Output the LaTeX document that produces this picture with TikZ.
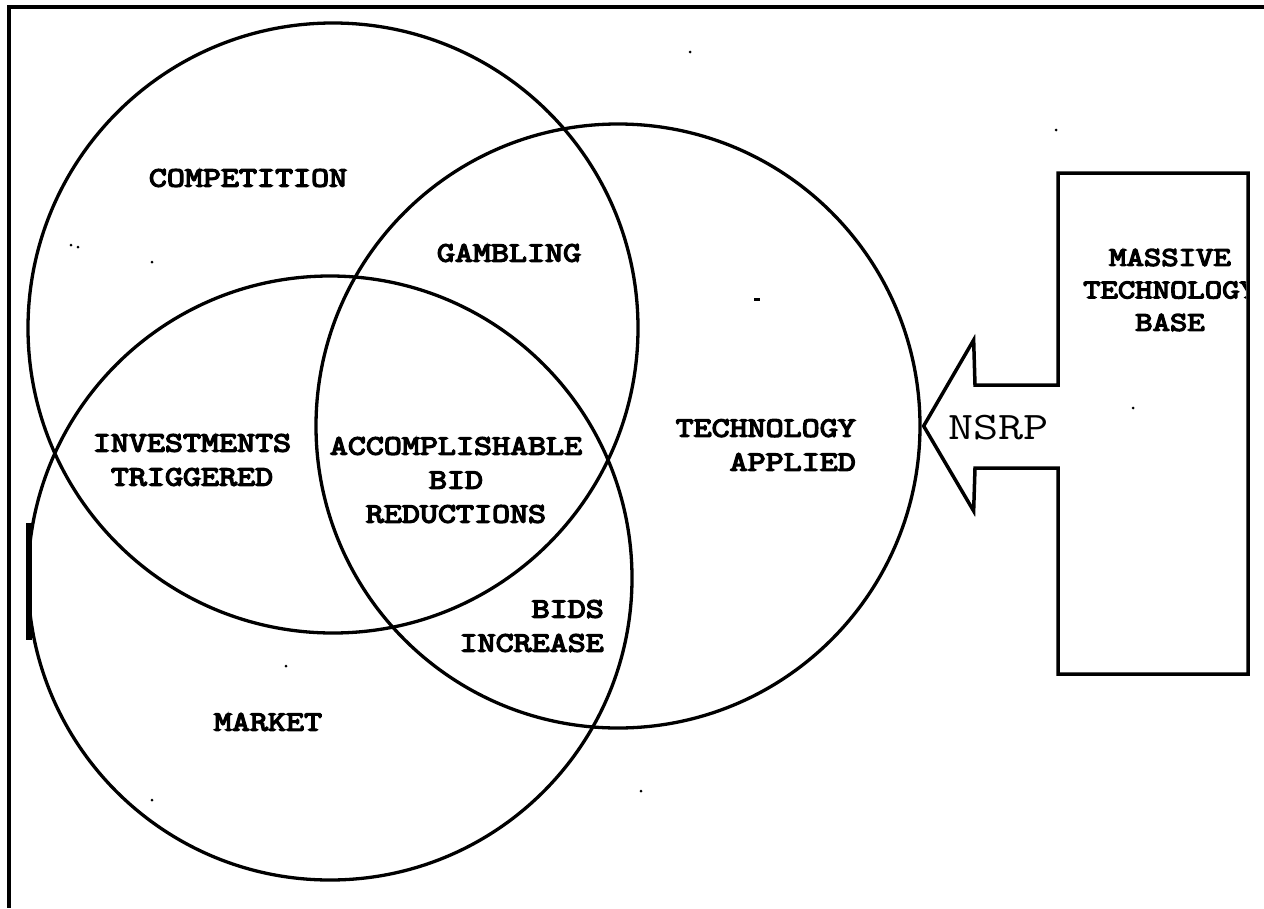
\documentclass[tikz,border=0pt]{standalone}
\usepackage{fontspec}
\newfontfamily\typewriter[FakeStretch=1.25]{Latin Modern Mono}
\newfontfamily\typewriterheavy[FakeStretch=1.25, FakeBold=5]{Latin Modern Mono}
\definecolor{ink}{HTML}{000000}
\usetikzlibrary{positioning, calc}
\tikzset{
  ring/.style={draw=ink, circle, line width=3.3pt, minimum size=#1, inner sep=0pt},
  ring/.default=606pt,
  lbl/.style={font=\typewriterheavy\fontsize{28}{34}\selectfont,
    text=ink, inner sep=0pt, align=center},
  boxlbl/.style={font=\typewriterheavy\fontsize{27}{32.5}\selectfont,
    text=ink, inner sep=0pt, align=center},
  thinlbl/.style={font=\typewriter\fontsize{39}{44}\selectfont, text=ink, inner sep=0pt},
  frameline/.style={draw=ink, line width=4pt},
  arrowline/.style={draw=ink, line width=3.5pt, line join=miter},
  speck/.style={fill=ink, circle, inner sep=0pt, minimum size=#1},
  speck/.default=3pt,
}
\begin{document}
\begin{tikzpicture}[x=1pt, y=-1pt]
  \useasboundingbox (0,0) rectangle (1264,908);
  \draw[frameline] (1264,7) -- (9,7) -- (9,908);
  \fill[ink] (26,523) rectangle (32,640);

  \node[ring=610pt] (comp) at (333,328) {};
  \node[ring=604pt] (market) at (330,578) {};
  \node[ring=604pt] (tech) at (618,426) {};

  \node[lbl] (lcomp) at (248,178) {COMPETITION};
  \node[lbl] (lgamb) at (509,253) {GAMBLING};
  \node[lbl] (linvest) at (192,460) {INVESTMENTS\\TRIGGERED};
  \node[lbl] (laccomp) at (456,480) {ACCOMPLISHABLE\\BID\\REDUCTIONS};
  \node[lbl, align=right, anchor=east] (lbids) at (604,626) {BIDS\\INCREASE};
  \node[lbl, align=right, anchor=east] (ltech) at (856,445) {TECHNOLOGY\\APPLIED};
  \node[lbl] (lmarket) at (268,722) {MARKET};

  \coordinate (tip) at ([xshift=2pt]tech.east);
  \draw[arrowline] (tip) -- ++(50,-86) -- (975,385) -- (1058,385) -- (1058,173)
    -- (1248,173) -- (1248,674) -- (1058,674) -- (1058,468) -- (975,468)
    -- ($(tip)+(50,85)$) -- cycle;
  \node[thinlbl, anchor=west] (nsrp) at (948,428) {NSRP};

  \begin{scope}
    \clip (1058,173) rectangle (1246,674);
    \node[boxlbl] (lbase) at (1170,290) {MASSIVE\\TECHNOLOGY\\BASE};
  \end{scope}

  \foreach \p [count=\i] in {(690,52),(1056,130),(71,245),(78,247),(152,262),
      (1133,408),(286,666),(152,800),(641,791)}
    \node[speck] (dot\i) at \p {};
  \fill[ink] (754,298) rectangle (760,301);
\end{tikzpicture}
\end{document}
